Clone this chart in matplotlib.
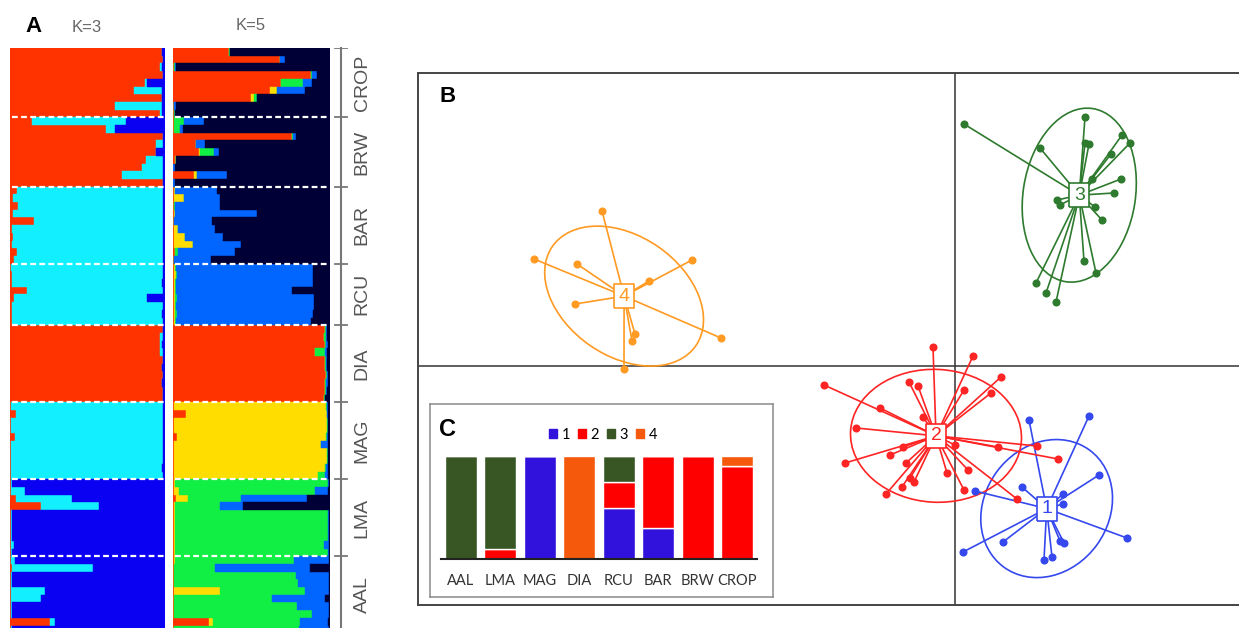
import numpy as np
import matplotlib
matplotlib.use("Agg")
import matplotlib.pyplot as plt
from matplotlib.patches import Ellipse, Patch

W, H = 1239, 628
plt.rcParams["font.family"] = ["Liberation Sans", "DejaVu Sans"]

# ---------------- Panel A : STRUCTURE (rows = individuals, % ancestry) ----
POPS_A = ["CROP", "BRW", "BAR", "RCU", "DIA", "MAG", "LMA", "AAL"]

# K=3 : [red, cyan, blue]
k3_crop = [[98, 0, 2], [99, 0, 1], [97, 1, 2], [98.5, 0, 1.5], [87, 1.5, 11.5],
           [80, 18, 2], [98, 0, 2], [68, 30, 2], [97, 1, 2]]
k3_brw = [[14, 61, 25], [62, 5.5, 32.5], [99, 0, 1], [94.5, 4, 1.5], [94.5, 0, 5.5],
          [88, 10.5, 1.5], [85, 13.5, 1.5], [72, 26.5, 1.5], [98.5, 0, 1.5]]
k3_bar = [[4.7, 94, 1.3], [2, 97, 1], [5.4, 93.6, 1], [2, 97, 1], [15.4, 83.6, 1],
          [1, 98, 1], [2, 96.5, 1.5], [1, 98, 1], [4.7, 94, 1.3], [2.6, 96, 1.4]]
k3_rcu = [[0.5, 98.5, 1], [1, 97.5, 1.5], [1, 97, 2], [10.7, 88, 1.3],
          [2.5, 85.7, 11.8], [1, 97.5, 1.5], [1, 97, 2], [1.5, 97.5, 1]]
k3_dia = [[98.5, 0, 1.5], [97, 1.5, 1.5], [97, 1, 2], [97, 1.5, 1.5], [98.5, 0, 1.5],
          [98, 0, 2], [98.5, 0, 1.5], [98, 0, 2], [98.5, 0, 1.5], [98.5, 0, 1.5]]
k3_mag = [[0.5, 98.5, 1], [3.6, 95.4, 1], [0.5, 98.5, 1], [0.5, 98.5, 1], [3, 95.5, 1.5],
          [0.5, 98.5, 1], [0.5, 98.5, 1], [0.5, 98.5, 1], [0.5, 97.5, 2], [0.5, 98.5, 1]]
k3_lma = [[0.5, 1, 98.5], [0.8, 8.6, 90.6], [3.6, 36.4, 60], [19.7, 37.9, 42.4],
          [0.5, 0.5, 99], [0.5, 0.5, 99], [0.5, 0.5, 99], [0.5, 0.5, 99],
          [0.5, 2, 97.5], [0.5, 0.5, 99]]
k3_aal = [[0.5, 2.8, 96.7], [1.5, 52, 46.5], [0.5, 0.8, 98.7], [0.5, 0.5, 99],
          [0.5, 22, 77.5], [0.5, 19.3, 80.2], [0.5, 0.5, 99], [0.5, 0.5, 99],
          [25.7, 3.6, 70.7], [0.5, 0.5, 99]]

# K=5 : [red, yellow, green, blue, navy]
k5_crop = [[35.5, 0, 1, 0, 63.5], [68, 0, 0, 3.6, 28.4], [0.5, 0, 1, 0.5, 98],
           [88, 0, 0.6, 3.2, 8.2], [68.5, 0, 14.5, 5.7, 11.3], [61.7, 4.3, 0, 17.9, 16.1],
           [49.8, 1.7, 1.7, 0, 46.8], [0.5, 0, 0, 1.7, 97.8], [0.5, 0, 1, 0, 98.5]]
k5_brw = [[0.8, 0, 6, 12.8, 80.4], [0.5, 0, 4, 1.7, 93.8], [75.5, 0, 0.9, 1.7, 21.9],
          [14.7, 0, 0, 5.5, 79.8], [16.8, 0.6, 8.5, 3.2, 70.9], [1, 1, 0, 0, 98],
          [0, 0, 0, 1.3, 98.7], [13.6, 1.7, 0, 19.1, 65.6], [0, 0, 0, 1, 99]]
k5_bar = [[0.5, 1, 0, 26.6, 71.9], [0.5, 6.4, 0, 22.8, 70.3], [0.5, 0, 0.5, 29, 70],
          [0.5, 1, 0, 52, 46.5], [0.5, 0, 0, 24.4, 75.1], [0.5, 2.5, 0, 24, 73],
          [0.5, 7, 0, 24.3, 68.2], [0.5, 12, 0, 31, 56.5], [1.5, 0, 1.7, 36, 60.8],
          [0.5, 0, 0, 24, 75.5]]
k5_rcu = [[0.5, 1, 0.5, 87.4, 10.6], [0.5, 1.5, 0.5, 86.9, 10.6], [0.5, 0.5, 1, 87.4, 10.6],
          [0.5, 0.5, 1, 73.5, 24.5], [0.5, 0.5, 1.5, 87, 10.5], [0.5, 0.5, 1, 87.5, 10.5],
          [0.5, 0.5, 1.5, 86.5, 11], [0.5, 0.5, 1, 86, 12]]
k5_dia = [[97, 0, 0.5, 0.5, 2], [96, 0, 1.5, 0.5, 2], [97, 0, 0.5, 1, 1.5],
          [90.5, 0, 6.5, 1, 2], [96.5, 0, 1, 0.5, 2], [97, 0, 0.5, 0.5, 2],
          [97.5, 0, 0.5, 0.5, 1.5], [97, 0, 0.5, 1, 1.5], [97, 0, 0.5, 0.5, 2],
          [96, 0, 0.5, 0.5, 3]]
k5_mag = [[0.5, 97, 0.5, 0.5, 1.5], [8.3, 89.5, 0.5, 0.5, 1.2], [0.5, 97.5, 0.5, 0.5, 1],
          [0.5, 97.5, 0.5, 0.5, 1], [2.5, 95, 0.5, 1, 1], [0.5, 93.5, 0.5, 4.5, 1],
          [0.5, 97.5, 0.5, 0.5, 1], [0.5, 97.5, 0.5, 0.5, 1], [0.5, 96.5, 0.5, 1.5, 1],
          [0.5, 92, 4, 2.5, 1]]
k5_lma = [[0.5, 1, 97.5, 0.5, 0.5], [0.5, 3.4, 86.6, 8.5, 1], [1.7, 7.9, 34, 42, 14.4],
          [0.5, 1, 28.5, 14.5, 55.5], [0.5, 0.5, 98, 0.5, 0.5], [0.5, 0.5, 98, 0.5, 0.5],
          [0.5, 0.5, 98, 0.5, 0.5], [0.5, 0.5, 98, 0.5, 0.5], [0.5, 0.5, 95, 3.5, 0.5],
          [0.5, 0.5, 98, 0.5, 0.5]]
k5_aal = [[0.5, 0.8, 76, 22, 0.7], [0.5, 0, 26.5, 60.5, 12.5], [0.5, 0, 78, 21, 0.5],
          [0.5, 0, 79, 20, 0.5], [0.5, 29.5, 54, 15.5, 0.5], [0.5, 0, 62.5, 34, 3],
          [0.5, 0, 78.5, 20.5, 0.5], [0.5, 0, 88, 11, 0.5], [22.8, 2.5, 55.5, 17.7, 1.5],
          [0.5, 0, 80, 19, 0.5]]

K3_COLORS = ["#FF3300", "#12F0FF", "#0A00F2"]
K5_COLORS = ["#FF3300", "#FFDD00", "#11EE44", "#0066FF", "#000036"]

# ---------------- Panel B : DAPC scatter ---------------------------------
c1_ld1 = [7.4, 13.4, 14.4, 6.7, 2.0, 10.8, 10.8, 17.2, 4.8, 10.5, 10.9, 0.8, 8.9, 9.7]
c1_ld2 = [-5.4, -5.0, -10.9, -12.1, -12.5, -12.8, -13.8, -17.2, -17.6, -17.5, -17.7,
          -18.6, -19.4, -19.1]
c2_ld1 = [-2.2, 1.8, 4.6, -13.1, -4.6, -3.7, 0.9, 3.6, -7.5, -3.2, -9.9, 8.2, 4.3, 0.0,
          10.3, -5.2, -6.5, -11.0, -4.9, 1.3, -0.8, -4.5, -4.1, -5.3, 0.9, -6.9, 6.2]
c2_ld2 = [1.9, 1.0, -1.1, -1.9, -1.6, -2.0, -2.4, -2.7, -4.2, -5.1, -6.2, -8.0, -8.1, -7.9,
          -9.3, -8.1, -8.9, -9.7, -9.7, -10.4, -10.7, -11.2, -11.6, -12.1, -12.4, -12.8,
          -13.3]
c3_ld1 = [0.9, 13.0, 16.7, 17.5, 8.5, 13.0, 13.4, 15.6, 13.7, 16.6, 15.9, 10.2, 10.5,
          14.0, 14.7, 12.9, 14.1, 8.1, 9.1, 10.1]
c3_ld2 = [24.2, 24.9, 23.1, 22.3, 21.8, 22.3, 22.2, 21.2, 18.7, 18.7, 17.3, 16.6, 16.1,
          15.9, 14.6, 10.5, 9.3, 8.3, 7.3, 6.4]
c4_ld1 = [-35.3, -42.1, -37.8, -26.3, -30.6, -38.0, -32.0, -32.3, -23.4, -33.1]
c4_ld2 = [15.5, 10.7, 10.2, 10.6, 8.5, 6.2, 3.2, 2.5, 2.8, -0.3]

CLUSTER_COLORS = {1: "#3548EE", 2: "#FF2424", 3: "#2E7A2E", 4: "#FF9A22"}

# ---------------- Panel C : cluster membership per population (%) ---------
pops_c = ["AAL", "LMA", "MAG", "DIA", "RCU", "BAR", "BRW", "CROP"]
memb_1 = [0, 0, 100, 0, 50, 30, 0, 0]
memb_2 = [0, 10, 0, 0, 25, 70, 100, 90]
memb_3 = [100, 90, 0, 0, 25, 0, 0, 0]
memb_4 = [0, 0, 0, 100, 0, 0, 0, 10]
C_COLORS = ["#3012DC", "#FF0000", "#375623", "#F55A0C"]


def px(x0, y0, w, h):
    """pixel box (top-left origin) -> figure fraction rect"""
    return [x0 / W, 1 - (y0 + h) / H, w / W, h / H]


ROW_PX = 7.7
TOP_A = 48
N_VIS = (H - TOP_A) / ROW_PX


def structure(ax, groups, colors):
    q = np.vstack([np.array(g, float) for g in groups])
    q = q / q.sum(axis=1, keepdims=True) * 100
    y = np.arange(len(q))
    left = np.zeros(len(q))
    for k, c in enumerate(colors):
        ax.barh(y, q[:, k], left=left, height=1.0, color=c, edgecolor=c,
                linewidth=0.3)
        left += q[:, k]
    bounds = np.cumsum([len(g) for g in groups])[:-1] - 0.5
    for b in bounds:
        ax.axhline(b, color="white", lw=1.6, ls=(0, (2.6, 1.5)), xmin=0.01, xmax=0.995)
    ax.set_xlim(0, 100)
    ax.set_ylim(N_VIS - 0.5, -0.5)
    ax.axis("off")
    return bounds


fig = plt.figure(figsize=(W / 100, H / 100), dpi=100)

k3_groups = [k3_crop, k3_brw, k3_bar, k3_rcu, k3_dia, k3_mag, k3_lma, k3_aal]
k5_groups = [k5_crop, k5_brw, k5_bar, k5_rcu, k5_dia, k5_mag, k5_lma, k5_aal]

ax3 = fig.add_axes(px(10, TOP_A, 155, H - TOP_A))
bounds = structure(ax3, k3_groups, K3_COLORS)
ax5 = fig.add_axes(px(173, TOP_A, 157, H - TOP_A))
structure(ax5, k5_groups, K5_COLORS)

# bracket with population names
axl = fig.add_axes(px(330, TOP_A, 50, H - TOP_A))
axl.set_xlim(0, 50)
axl.set_ylim(N_VIS - 0.5, -0.5)
axl.axis("off")
axl.plot([10.8, 10.8], [-0.5, N_VIS], color="#777777", lw=1.5, clip_on=False)
for b in np.concatenate([[-0.5], bounds]):
    axl.plot([5, 17], [b, b], color="#777777", lw=1.3)
sizes = [len(g) for g in k3_groups]
starts = np.concatenate([[0], np.cumsum(sizes)[:-1]]) - 0.5
for name, s, n in zip(POPS_A, starts, sizes):
    axl.text(32, s + n / 2, name, rotation=90, ha="center", va="center",
             fontsize=14, color="#555555")

fig.text(33 / W, 1 - 26 / H, "A", fontsize=16, fontweight="bold", ha="center",
         va="center")
fig.text(87 / W, 1 - 27 / H, "K=3", fontsize=12, color="#666666", ha="center",
         va="center")
fig.text(251 / W, 1 - 25 / H, "K=5", fontsize=12, color="#666666", ha="center",
         va="center")

# ---------------- Panel B -------------------------------------------------
axb = fig.add_axes(px(418, 72.5, 822, 532.5))
axb.set_xlim(-53.7, 28.5)
axb.set_ylim(-23.9, 29.35)
axb.set_xticks([])
axb.set_yticks([])
for s in ["top", "left", "bottom"]:
    axb.spines[s].set_color("#444444")
    axb.spines[s].set_linewidth(1.4)
axb.spines["right"].set_visible(False)
axb.axhline(0, color="#333333", lw=1.1, zorder=1)
axb.axvline(0, color="#333333", lw=1.1, zorder=1)

box_marker = [(-0.42, -0.5), (0.42, -0.5), (0.42, 0.5), (-0.42, 0.5), (-0.42, -0.5)]
clusters = {1: (c1_ld1, c1_ld2), 2: (c2_ld1, c2_ld2), 3: (c3_ld1, c3_ld2),
            4: (c4_ld1, c4_ld2)}
for k, (xs, ys) in clusters.items():
    col = CLUSTER_COLORS[k]
    xs = np.asarray(xs)
    ys = np.asarray(ys)
    cx, cy = xs.mean(), ys.mean()
    # inertia ellipse (1.5 sd), as in adegenet::s.class
    cov = np.cov(np.vstack([xs, ys]), bias=True)
    vals, vecs = np.linalg.eigh(cov)
    order = vals.argsort()[::-1]
    vals, vecs = vals[order], vecs[:, order]
    ang = np.degrees(np.arctan2(vecs[1, 0], vecs[0, 0]))
    axb.add_patch(Ellipse((cx, cy), 2 * 1.5 * np.sqrt(vals[0]), 2 * 1.5 * np.sqrt(vals[1]),
                          angle=ang, fill=False, ec=col, lw=1.2, zorder=2))
    for x, y in zip(xs, ys):
        axb.plot([cx, x], [cy, y], color=col, lw=1.2, zorder=3)
    axb.plot(xs, ys, "o", color=col, ms=4.8, zorder=4)
    axb.plot(cx, cy, marker=box_marker, ms=17, mfc="white", mec=col, mew=1.2, zorder=5)
    axb.text(cx, cy, str(k), ha="center", va="center", fontsize=14, color=col, zorder=6)

fig.text(448 / W, 1 - 97 / H, "B", fontsize=16, fontweight="bold", ha="center",
         va="center")

# ---------------- Panel C -------------------------------------------------
axbox = fig.add_axes(px(430, 404, 343, 193))
axbox.set_xticks([])
axbox.set_yticks([])
axbox.set_facecolor("white")
for s in axbox.spines.values():
    s.set_color("#8a8a8a")
    s.set_linewidth(1.1)

axc = fig.add_axes(px(441, 456, 316, 103))
axc.patch.set_alpha(0)
xpos = np.arange(len(pops_c))
bottom = np.zeros(len(pops_c))
handles = []
for vals_c, col, lab in zip([memb_1, memb_2, memb_3, memb_4], C_COLORS, ["1", "2", "3", "4"]):
    axc.bar(xpos, vals_c, bottom=bottom, width=0.82, color=col, edgecolor="white",
            linewidth=1.0)
    bottom += np.asarray(vals_c, float)
    handles.append(Patch(color=col, label=lab))
axc.set_xlim(-0.5, len(pops_c) - 0.5)
axc.set_ylim(0, 100)
axc.set_xticks(xpos)
axc.set_xticklabels(pops_c, fontsize=10.5, color="#333333", family=["Lato", "DejaVu Sans"])
axc.tick_params(axis="x", length=0, pad=11)
axc.set_yticks([])
for s in ["top", "left", "right"]:
    axc.spines[s].set_visible(False)
axc.spines["bottom"].set_color("#222222")
axc.spines["bottom"].set_linewidth(1.5)
axc.spines["bottom"].set_zorder(5)

fig.legend(handles=handles, loc="center", bbox_to_anchor=(603 / W, 1 - 435 / H),
           ncol=4, frameon=False, handlelength=0.55, handleheight=0.55,
           handletextpad=0.3, columnspacing=0.55,
           prop={"family": ["Lato", "DejaVu Sans"], "size": 10.5})

fig.text(448 / W, 1 - 430 / H, "C", fontsize=17, fontweight="bold", ha="center",
         va="center")

fig.savefig("out.png", dpi=100)
